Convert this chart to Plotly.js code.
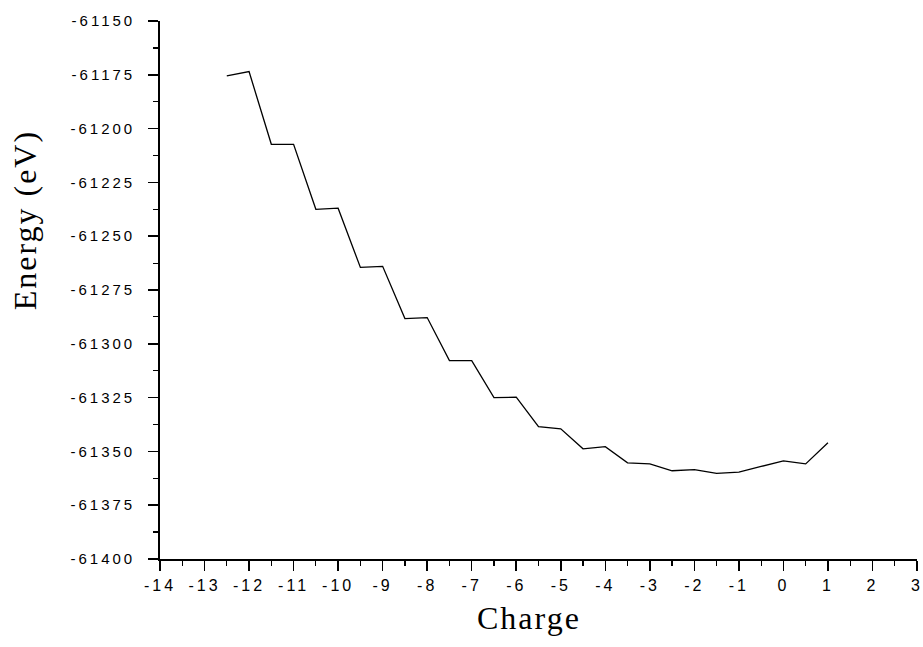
<!DOCTYPE html>
<html>
<head>
<meta charset="utf-8">
<script src="https://cdn.plot.ly/plotly-3.0.1.min.js"></script>
<style>
  html, body { margin: 0; padding: 0; background: #fff; }
  #chart { width: 923px; height: 647px; }
  .xtick text, .ytick text { letter-spacing: 3px; }
  .annotation-text { letter-spacing: 2px; }
</style>
</head>
<body>
<div id="chart"></div>
<script>
// Data
const charge = [-12.5, -12, -11.5, -11, -10.5, -10, -9.5, -9, -8.5, -8, -7.5, -7, -6.5, -6,
                -5.5, -5, -4.5, -4, -3.5, -3, -2.5, -2, -1.5, -1, -0.5, 0, 0.5, 1];
const energy = [-61175.5, -61173.5, -61207.3, -61207.3, -61237.5, -61237.0, -61264.5, -61264.0,
                -61288.3, -61287.8, -61307.8, -61307.8, -61325.0, -61324.8, -61338.5, -61339.5,
                -61348.8, -61347.8, -61355.3, -61355.8, -61359.0, -61358.5, -61360.2, -61359.6,
                -61357.0, -61354.4, -61355.8, -61346.0];

const xTickVals = [-14, -13, -12, -11, -10, -9, -8, -7, -6, -5, -4, -3, -2, -1, 0, 1, 2, 3];
const xTickText = ["-14", "-13", "-12", "-11", "-10", "-9", "-8", "-7", "-6", "-5", "-4", "-3", "-2", "-1", "0", "1", "2", "3"];
const yTickVals = [-61400, -61375, -61350, -61325, -61300, -61275, -61250, -61225, -61200, -61175, -61150];
const yTickText = ["-61400", "-61375", "-61350", "-61325", "-61300", "-61275", "-61250", "-61225", "-61200", "-61175", "-61150"];

const xTitle = "Charge";
const yTitle = "Energy (eV)";

const trace = {
  x: charge,
  y: energy,
  type: "scatter",
  mode: "lines",
  line: { color: "#000", width: 1.3 },
  hoverinfo: "skip"
};

const tickFont = { family: "Liberation Sans, Arial, sans-serif", color: "#000" };

const layout = {
  width: 923,
  height: 647,
  paper_bgcolor: "#fff",
  plot_bgcolor: "#fff",
  showlegend: false,
  margin: { l: 160, r: 6, t: 21, b: 88 },
  xaxis: {
    range: [-14, 3],
    tickmode: "array",
    tickvals: xTickVals,
    ticktext: xTickText,
    ticks: "outside",
    ticklen: 10,
    tickwidth: 1.5,
    tickcolor: "#000",
    ticklabelstandoff: 1,
    tickfont: Object.assign({ size: 16 }, tickFont),
    minor: { tickmode: "linear", tick0: -14, dtick: 0.5, ticks: "outside", ticklen: 5, tickwidth: 1.2, tickcolor: "#000" },
    showline: true,
    linecolor: "#000",
    linewidth: 1.8,
    showgrid: false,
    zeroline: false,
    mirror: false,
    fixedrange: true
  },
  yaxis: {
    range: [-61400, -61150],
    tickmode: "array",
    tickvals: yTickVals,
    ticktext: yTickText,
    ticks: "outside",
    ticklen: 10,
    tickwidth: 1.5,
    tickcolor: "#000",
    ticklabelstandoff: 10,
    tickfont: Object.assign({ size: 15 }, tickFont),
    minor: { tickmode: "linear", tick0: -61400, dtick: 12.5, ticks: "outside", ticklen: 5, tickwidth: 1.2, tickcolor: "#000" },
    showline: true,
    linecolor: "#000",
    linewidth: 1.8,
    showgrid: false,
    zeroline: false,
    mirror: false,
    fixedrange: true
  },
  annotations: [
    {
      text: xTitle,
      xref: "paper", yref: "paper",
      x: 0.487, y: -0.11,
      xanchor: "center", yanchor: "middle",
      showarrow: false,
      font: { family: "Liberation Serif, Times New Roman, serif", size: 32, color: "#000" }
    },
    {
      text: yTitle,
      xref: "paper", yref: "paper",
      x: -0.178, y: 0.63,
      xanchor: "center", yanchor: "middle",
      textangle: -90,
      showarrow: false,
      font: { family: "Liberation Serif, Times New Roman, serif", size: 32, color: "#000" }
    }
  ]
};

Plotly.newPlot("chart", [trace], layout, { staticPlot: true, displayModeBar: false });
</script>
</body>
</html>
